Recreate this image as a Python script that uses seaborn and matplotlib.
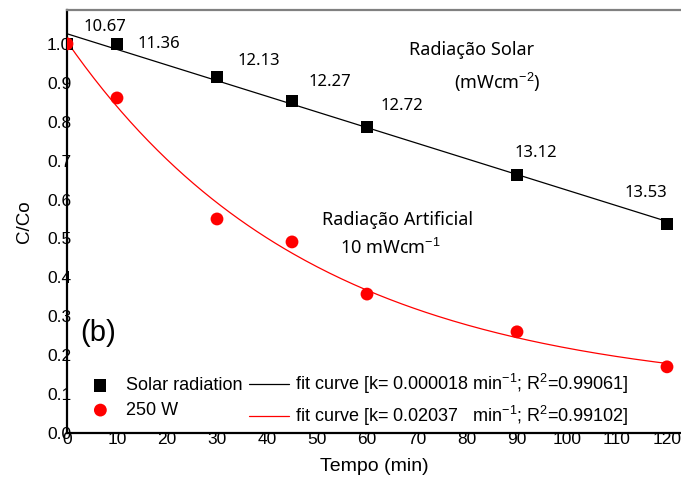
import numpy as np
import pandas as pd
import matplotlib
matplotlib.use('Agg')
import matplotlib.pyplot as plt
import seaborn as sns
from matplotlib.ticker import MultipleLocator
#----------------------------------------------------------------------------------------------------------------
tempo = [0, 10, 30, 45, 60, 90, 120]
solar_cc = [1.0, 1.0, 0.915, 0.853, 0.787, 0.663, 0.537]
lamp_cc = [1.0, 0.861, 0.550, 0.491, 0.357, 0.260, 0.170]
irradiance = ['10.67', '11.36', '12.13', '12.27', '12.72', '13.12', '13.53']
k_lamp = 0.02037
#----------------------------------------------------------------------------------------------------------------
data = pd.DataFrame({'Tempo': tempo, 'Solar': solar_cc, 'Lamp': lamp_cc})

# fitted curves
t_fit = np.linspace(0, 120, 200)
slope, intercept = np.polyfit(data['Tempo'], data['Solar'], 1)
solar_fit = intercept + slope * t_fit
A = np.column_stack([np.exp(-k_lamp * data['Tempo']), np.ones(len(data))])
amp, off = np.linalg.lstsq(A, data['Lamp'], rcond=None)[0]
lamp_fit = off + amp * np.exp(-k_lamp * t_fit)
#----------------------------------------------------------------------------------------------------------------
sns.set_style('white')
plt.rcParams['font.family'] = ['Liberation Sans', 'DejaVu Sans']
plt.rcParams['mathtext.fontset'] = 'custom'
plt.rcParams['mathtext.rm'] = 'Liberation Sans'
plt.rcParams['mathtext.it'] = 'Liberation Sans'
plt.rcParams['text.color'] = 'black'
plt.rcParams['axes.labelcolor'] = 'black'

fig = plt.figure(figsize=(6.81, 4.79), dpi=100)
ax = fig.add_axes([67 / 681, 1 - 433 / 479, 1 - 67 / 681, 423 / 479])

sns.lineplot(x=t_fit, y=solar_fit, color='black', lw=0.9, ax=ax,
             label='fit curve [k= 0.000018 min$^{-1}$; R$^2$=0.99061]')
sns.lineplot(x=t_fit, y=lamp_fit, color='#ff0000', lw=0.9, ax=ax,
             label='fit curve [k= 0.02037   min$^{-1}$; R$^2$=0.99102]')
sns.scatterplot(data=data, x='Tempo', y='Solar', marker='s', s=75, color='black',
                edgecolor='none', ax=ax, label='Solar radiation', zorder=3)
sns.scatterplot(data=data, x='Tempo', y='Lamp', marker='o', s=85, color='#ff0000',
                edgecolor='none', ax=ax, label='250 W', zorder=4)

ann_font = ['Noto Sans', 'DejaVu Sans']
label_pos = [(7.6, 1.044), (18.4, 1.0), (38.4, 0.956), (52.6, 0.902),
             (67.0, 0.841), (93.8, 0.72), (115.8, 0.617)]
for txt, (xp, yp) in zip(irradiance, label_pos):
    ax.text(xp, yp, txt, ha='center', va='center', fontsize=12, family=ann_font)

ax.text(81.0, 0.985, 'Radiação Solar', ha='center', va='center', fontsize=13, family=ann_font)
ax.text(86.0, 0.90, '(mWcm$^{-2}$)', ha='center', va='center', fontsize=13, family=ann_font)
ax.text(66.0, 0.548, 'Radiação Artificial', ha='center', va='center', fontsize=13, family=ann_font)
ax.text(64.6, 0.476, '10 mWcm$^{-1}$', ha='center', va='center', fontsize=13, family=ann_font)
ax.text(6.2, 0.257, '(b)', ha='center', va='center', fontsize=21)

ax.set_xlim(0, 122.8)
ax.set_ylim(0, 1.087)
ax.xaxis.set_major_locator(MultipleLocator(10))
ax.xaxis.set_minor_locator(MultipleLocator(5))
ax.yaxis.set_major_locator(MultipleLocator(0.1))
ax.yaxis.set_minor_locator(MultipleLocator(0.05))
ax.yaxis.set_major_formatter(plt.FormatStrFormatter('%.1f'))
ax.tick_params(axis='both', which='both', direction='in', labelsize=12.5,
               color='#555555', labelcolor='black')
ax.tick_params(axis='both', which='major', length=3, width=0.8)
ax.tick_params(axis='both', which='minor', length=2, width=0.6)
ax.tick_params(axis='x', pad=-1)
ax.tick_params(axis='y', pad=-3)

ax.set_xlabel('Tempo (min)', fontsize=14, labelpad=8)
ax.set_ylabel('C/Co', fontsize=13.5, labelpad=10)

for side in ['left', 'bottom']:
    ax.spines[side].set_color('black')
    ax.spines[side].set_linewidth(1.6)
ax.spines['top'].set_color('#808080')
ax.spines['top'].set_linewidth(1.6)
ax.spines['right'].set_visible(False)

handles, labels = ax.get_legend_handles_labels()
order = [2, 3, 0, 1]
ax.legend([handles[i] for i in order], [labels[i] for i in order], ncol=2,
          loc='lower left', bbox_to_anchor=(0.022, 0.012), frameon=False,
          fontsize=13, handlelength=2.2, handletextpad=0.3, columnspacing=0.4,
          labelspacing=0.42, borderpad=0, borderaxespad=0)

plt.savefig('out.png', dpi=100)
plt.close()
